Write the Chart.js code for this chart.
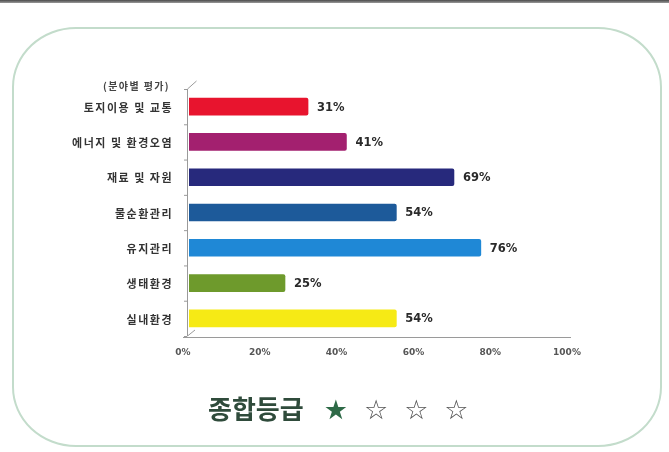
<!DOCTYPE html>
<html><head><meta charset="utf-8">
<script src="https://cdn.jsdelivr.net/npm/chart.js@4"></script>
<style>
html,body{margin:0;padding:0;background:#fff;}
#wrap{position:relative;width:669px;height:452px;overflow:hidden;background:#fff;}
#topline{position:absolute;left:0;top:0;width:669px;height:3px;background:linear-gradient(#4a4a4a,#9a9a9a);}
#frame{position:absolute;left:12px;top:27px;width:650px;height:420px;border:2px solid #c3dccb;border-radius:64px/60px;box-sizing:border-box;}
#c{position:absolute;left:0;top:0;}
#ytitle{position:absolute;left:103px;top:78px;font:bold 10px "Noto Sans CJK KR";letter-spacing:1.4px;color:#444;}
#grade{position:absolute;left:208px;top:389px;font:bold 26px "Noto Sans CJK KR";color:#2f4b3b;white-space:nowrap;}
#grade .s{font-family:"DejaVu Sans";font-size:27px;margin-left:16px;}
#grade .s.f{margin-left:20px;color:#2e6a47;}
#grade .o{color:#555;font-weight:normal;}
</style></head>
<body><div id="wrap">
<div id="topline"></div>
<div id="frame"></div>
<canvas id="c" width="669" height="452"></canvas>
<div id="ytitle">(분야별 평가)</div>
<div id="grade">종합등급<span class="s f">★</span><span class="s o">☆</span><span class="s o">☆</span><span class="s o">☆</span></div>
</div>
<script>
const categories = ['토지이용 및 교통','에너지 및 환경오염','재료 및 자원','물순환관리','유지관리','생태환경','실내환경'];
const values = [31, 41, 69, 54, 76, 25, 54];
const barColors = ['#e8142e','#a3206f','#27297c','#1d5a9a','#1f88d6','#6e9a2c','#f6ea15'];
const xTicks = [0, 20, 40, 60, 80, 100];

const valueLabels = {
  id:'valueLabels',
  afterDatasetsDraw(chart){
    const ctx = chart.ctx;
    const meta = chart.getDatasetMeta(0);
    ctx.save();
    ctx.font = 'bold 11.5px "DejaVu Sans"';
    ctx.fillStyle = '#2a2a2a';
    ctx.textBaseline = 'middle';
    ctx.textAlign = 'left';
    meta.data.forEach((bar,i)=>{
      ctx.fillText(values[i] + '%', bar.x + 9, bar.y + 1);
    });
    ctx.restore();
  }
};
const yLabels = {
  id:'yLabels',
  afterDraw(chart){
    const ctx = chart.ctx;
    const ys = chart.scales.y;
    ctx.save();
    ctx.font = 'bold 11px "Noto Sans CJK KR"';
    ctx.fillStyle = '#333';
    ctx.textBaseline = 'middle';
    ctx.textAlign = 'right';
    if ('letterSpacing' in ctx) ctx.letterSpacing = '1.5px';
    categories.forEach((c,i)=>{
      ctx.fillText(c, 173, ys.getPixelForValue(i) + 1);
    });
    ctx.restore();
  }
};
const axisDeco = {
  id:'axisDeco',
  beforeDatasetsDraw(chart){
    const ctx = chart.ctx, a = chart.chartArea;
    const x0 = a.left - 2;
    ctx.save();
    ctx.strokeStyle = '#9a9a9a';
    ctx.lineWidth = 1;
    ctx.beginPath();
    ctx.moveTo(x0+0.5, a.bottom); ctx.lineTo(x0+0.5, a.top);
    ctx.lineTo(x0+9.5, a.top-8);
    ctx.moveTo(x0-4, a.bottom+1.5); ctx.lineTo(a.right-2, a.bottom+1.5);
    ctx.moveTo(x0+0.5, a.bottom); ctx.lineTo(x0+8, a.bottom-6);
    for(let i=0;i<=categories.length;i++){
      const y = a.top + (a.bottom-a.top)*i/categories.length;
      ctx.moveTo(x0-3, y+0.5); ctx.lineTo(x0, y+0.5);
    }
    ctx.stroke();
    ctx.restore();
  }
};

new Chart(document.getElementById('c'), {
  type:'bar',
  data:{ labels:categories, datasets:[{ data:values, backgroundColor:barColors, borderColor:barColors, borderWidth:0, barThickness:17, borderRadius:2, borderSkipped:'start' }] },
  options:{
    indexAxis:'y', responsive:false, animation:false,
    layout:{ padding:{ left:0, right:96, top:89, bottom:0 } },
    plugins:{ legend:{display:false}, tooltip:{enabled:false} },
    scales:{
      x:{ min:0, max:100, grid:{display:false, drawTicks:false}, border:{display:false},
          afterBuildTicks(s){ s.ticks = xTicks.map(v=>({value:v})); },
          ticks:{ padding:11, labelOffset:-6, color:'#555', font:{family:'DejaVu Sans', size:9, weight:'bold'}, callback:v=>v+'%' },
          afterFit(s){ s.height = 116; } },
      y:{ grid:{display:false, drawTicks:false}, border:{display:false},
          ticks:{ display:false },
          afterFit(s){ s.width = 189; } }
    }
  },
  plugins:[axisDeco, valueLabels, yLabels]
});
</script>
</body></html>
